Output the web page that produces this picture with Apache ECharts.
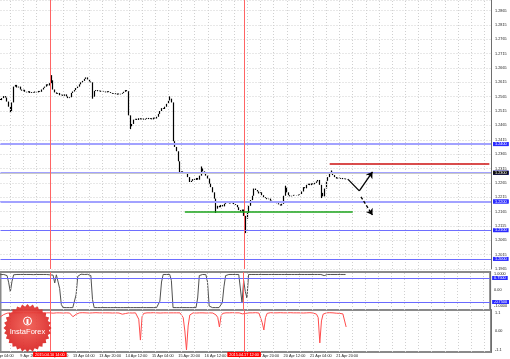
<!DOCTYPE html>
<html><head><meta charset="utf-8">
<script src="https://cdn.jsdelivr.net/npm/echarts@6/dist/echarts.min.js"></script>
<style>html,body{margin:0;padding:0;background:#fff}#c{width:510px;height:359px}</style>
</head><body><div id="c"></div>
<script>
// ---- data ----
const startUTC = [2015, 3, 9, 4];   // first hourly bar: 9 Apr 2015 04:00
const totalSlots = 303;             // hourly slots incl. empty space on the right
const firstVisible = 4, lastVisible = 302;

const closes = [
1.2550,1.2556,1.2552,1.2557,1.2553,1.2560,1.2567,1.2562,1.2548,1.2530,
1.2515,1.2545,1.2600,1.2606,1.2597,1.2600,1.2590,1.2586,1.2589,1.2582,
1.2580,1.2584,1.2578,1.2581,1.2579,1.2583,1.2580,1.2585,1.2582,1.2590,
1.2596,1.2600,1.2608,1.2604,1.2612,1.2622,1.2590,1.2580,1.2575,1.2578,
1.2570,1.2572,1.2568,1.2573,1.2566,1.2560,1.2563,1.2578,1.2583,1.2588,
1.2595,1.2600,1.2608,1.2615,1.2620,1.2627,1.2632,1.2625,1.2618,1.2615,
1.2565,1.2585,1.2588,1.2584,1.2586,1.2582,1.2585,1.2583,1.2580,1.2584,
1.2581,1.2578,1.2575,1.2577,1.2572,1.2576,1.2573,1.2575,1.2578,1.2582,
1.2588,1.2584,1.2500,1.2462,1.2470,1.2485,1.2488,1.2484,1.2490,1.2486,
1.2489,1.2485,1.2488,1.2491,1.2487,1.2490,1.2486,1.2492,1.2489,1.2495,
1.2505,1.2515,1.2525,1.2522,1.2530,1.2540,1.2552,1.2558,1.2545,1.2410,
1.2390,1.2375,1.2340,1.2300,1.2305,1.2296,1.2302,1.2298,1.2285,1.2268,
1.2272,1.2278,1.2275,1.2282,1.2276,1.2290,1.2315,1.2305,1.2298,1.2290,
1.2280,1.2262,1.2250,1.2232,1.2210,1.2175,1.2185,1.2180,1.2188,1.2183,
1.2192,1.2195,1.2198,1.2193,1.2194,1.2197,1.2191,1.2188,1.2180,
1.2170,1.2165,1.2172,1.2150,1.2140,1.2160,1.2185,1.2205,1.2220,1.2245,
1.2240,1.2235,1.2228,1.2232,1.2222,1.2215,1.2212,1.2208,1.2210,1.2203,
1.2200,1.2196,1.2199,1.2194,1.2190,1.2186,1.2192,1.2220,1.2248,1.2232,
1.2222,1.2218,1.2220,1.2223,1.2222,1.2221,1.2224,1.2226,1.2235,
1.2250,1.2246,1.2258,1.2262,1.2257,1.2263,1.2260,1.2265,1.2270,1.2275,
1.2258,1.2230,1.2218,1.2245,1.2272,1.2285,1.2298,1.2303,1.2292,1.2285,
1.2280,1.2283,1.2279,1.2282,1.2278,1.2280,1.2277
];
const highExtremes = [[35,1.2640],[107,1.2566],[126,1.2322],[177,1.2255],[205,1.2308]];
const lowExtremes  = [[10,1.2508],[60,1.2558],[83,1.2452],[135,1.2160],[153,1.2090],[199,1.2212]];

const oscBlack = [
0.97,0.96,0.97,0.97,0.96,0.97,0.97,0.95,0.90,0.45,
-0.12,0.55,0.95,0.97,0.97,0.96,0.97,0.97,0.97,0.96,
0.97,0.97,0.97,0.97,0.96,0.97,0.97,0.97,0.97,0.97,
0.97,0.97,0.97,0.96,0.95,0.96,0.93,0.44,0.95,0.96,
0.10,-0.90,-1.10,-1.10,-1.10,-1.10,-1.10,-1.10,-1.10,-1.09,
-0.30,0.85,0.97,0.99,0.99,0.97,0.99,0.98,0.96,0.90,
-0.60,-1.10,-1.10,-1.10,-1.10,-1.10,-1.10,-1.10,-1.10,-1.10,
-1.10,-1.10,-1.10,-1.10,-1.10,-1.10,-1.10,-1.10,-1.10,-1.10,
-1.10,-1.10,-1.10,-1.10,-1.10,-1.10,-1.10,-1.10,-1.10,-1.10,
-1.10,-1.10,-1.10,-1.10,-1.10,-1.10,-1.10,-1.10,-1.10,-1.10,
-1.10,-0.70,0.50,0.97,0.97,0.97,0.96,0.97,0.60,-1.10,
-1.10,-1.10,-1.10,-1.10,-1.10,-1.10,-1.10,-1.10,-1.10,-1.10,
-1.10,-1.10,-1.10,-1.10,-0.50,0.90,0.97,0.97,0.97,0.96,
0.50,-1.00,-1.10,-1.10,-1.10,-1.10,-1.10,-1.10,-1.10,-0.80,
0.20,0.90,0.97,0.97,0.97,0.97,0.97,0.97,0.96,0.97,
0.90,-0.81,0.60,-0.10,-0.50,0.97,0.97,0.97,0.97,0.97,
0.97,0.97,0.97,0.97,0.97,0.97,0.97,0.97,0.97,0.97,
0.97,0.97,0.97,0.97,0.97,0.97,0.97,0.97,0.97,0.97,
0.97,0.97,0.97,0.97,0.97,0.97,0.97,0.97,0.97,0.97,
0.97,0.97,0.97,0.97,0.97,0.97,0.96,0.97,0.97,0.97,
0.95,0.90,0.95,0.97,0.97,0.97,0.97,0.97,0.97,0.97,
0.97,0.97,0.97,0.97,0.97
];
const oscRed = [
0.60,0.65,0.70,0.77,0.85,0.92,0.98,1.03,1.06,1.07,
1.08,1.07,1.08,1.09,1.08,1.07,1.08,1.08,1.09,1.08,
1.08,1.07,1.08,1.08,1.09,1.08,1.08,1.07,1.08,1.08,
1.09,1.08,1.08,1.07,1.08,1.08,1.06,1.08,1.08,1.09,
1.08,1.08,1.07,1.08,1.08,1.08,1.07,1.05,0.85,0.77,
1.00,1.07,1.08,1.08,1.09,1.08,1.08,1.08,1.07,1.08,
1.08,1.08,1.09,1.08,1.08,1.07,1.08,1.08,1.08,1.09,
1.08,1.08,1.07,1.08,1.08,1.08,1.07,1.05,1.00,0.95,
1.04,1.07,1.08,1.08,1.07,1.08,1.08,1.05,0.70,-0.54,
0.85,1.05,1.08,1.08,1.07,1.08,1.08,1.09,1.08,1.08,
1.08,1.07,1.08,1.08,1.09,1.08,1.08,1.08,1.07,1.08,
1.08,1.08,1.09,1.08,1.06,0.80,0.00,-1.13,0.30,0.95,
1.06,1.08,1.08,1.07,1.08,1.08,1.09,1.08,1.08,1.07,
1.08,1.08,1.08,1.07,1.06,0.95,0.80,0.24,0.90,1.05,
1.08,1.08,1.07,1.08,1.08,1.09,1.08,1.08,1.07,1.08,
1.08,1.02,0.95,1.05,1.08,1.08,1.07,1.08,1.08,1.09,
1.08,1.07,1.00,0.50,0.06,0.80,1.05,1.08,1.09,1.08,
1.08,1.07,1.08,1.08,1.09,1.08,1.08,1.07,1.08,1.08,
1.09,1.08,1.08,1.07,1.08,1.09,1.08,1.08,1.07,1.08,
1.08,1.08,1.09,1.08,1.07,1.06,1.00,0.80,-0.71,0.60,
1.00,1.07,1.08,1.08,1.09,1.08,1.08,1.07,1.06,1.06,
1.05,1.03,1.02,0.98,0.24
];

const priceLevels      = [1.2399, 1.2256, 1.2164, 1.2090, 1.2036];   // solid blue lines
const priceLevelsLight = [1.2429, 1.2333, 1.2226];                   // pale blue lines
const currentPrice = 1.2277;
const resistanceRed = {value: 1.2333, from: 204, to: 301};
const supportGreen  = {value: 1.2164, from: 116, to: 218};
const oscLevels = [0.75, -0.75];
const oscLevelLabels = ['0.7500', '-0.7500'];
const oscAxisLabels = [[1, '1.0000'], [0, '0.00'], [-1, '-1.0000']];
const osc2AxisLabels = [[1.1, '1.1'], [0, '0.00'], [-1.1, '-1.1']];
const markedBars = [34, 152];
const markedBarLabels = ['2015.04.10 14:00', '2015.04.17 12:00'];
const arrowUp   = [[215, 1.2278], [222, 1.2237], [230, 1.2303]];
const arrowDown = [[223, 1.2216], [230, 1.2153]];
const months = ['Jan','Feb','Mar','Apr','May','Jun','Jul','Aug','Sep','Oct','Nov','Dec'];
const lastLabelled = closes.length - 1;

// ---- categories (hourly, weekends skipped) ----
const cats = [];
let t = Date.UTC(...startUTC);
while (cats.length < totalSlots) {
  const d = new Date(t);
  const wd = d.getUTCDay();
  if (wd !== 0 && wd !== 6) {
    cats.push(d.getUTCDate() + ' ' + months[d.getUTCMonth()] + ' ' + String(d.getUTCHours()).padStart(2, '0') + ':00');
  }
  t += 3600000;
}

// ---- OHLC ----
const hiMap = new Map(highExtremes), loMap = new Map(lowExtremes);
const ohlc = closes.map((c, i) => {
  const o = i ? closes[i - 1] : c;
  const hi = hiMap.has(i) ? hiMap.get(i) : Math.max(o, c);
  const lo = loMap.has(i) ? loMap.get(i) : Math.min(o, c);
  return [o, c, lo, hi];
});

const FONT = 'Liberation Sans';
const FS = 3.8;
const DOT = {color: '#d0d0d0', type: [1, 2], width: 1};
const G = {left: 0.5, width: 490.5};

// vertical dotted grid every 8 hourly slots
const vGridSlots = [];
for (let i = firstVisible; i <= lastVisible; i++) if ((i - 2) % 8 === 0) vGridSlots.push(i);

function xAx(k) {
  return {
    type: 'category', gridIndex: k, data: cats, boundaryGap: false,
    min: firstVisible, max: lastVisible,
    axisLine: {show: false}, axisTick: {show: false},
    axisLabel: {
      show: k === 2, interval: (i) => i % 16 === 0 && i <= lastLabelled, align: 'left',
      fontSize: FS, fontFamily: FONT, color: '#222', margin: 2
    },
    splitLine: {show: false}
  };
}
const axLine = {show: true, lineStyle: {color: '#6e6e6e', width: 1}};
const labBase = {fontSize: FS, fontFamily: FONT, color: '#222', margin: 4};

const vGrid = (k) => ({
  type: 'line', xAxisIndex: k, yAxisIndex: k, data: [], silent: true, z: 0,
  markLine: {silent: true, symbol: 'none', animation: false, label: {show: false},
    lineStyle: DOT, data: vGridSlots.map(i => ({xAxis: cats[i], lineStyle: DOT}))}
});

const RED_V = {color: '#ff6464', width: 1, type: 'solid'};
const redV = (withLabel) => ({
  silent: true, symbol: 'none', animation: false,
  lineStyle: RED_V,
  label: withLabel ? {
    show: true, position: 'start', distance: 0, color: '#fff', backgroundColor: '#ff0000',
    fontSize: FS, fontFamily: FONT, padding: [1, 2, 0, 2]
  } : {show: false},
  data: markedBars.map((b, j) => {
    const item = {xAxis: cats[b], lineStyle: RED_V};
    if (withLabel) item.label = {formatter: markedBarLabels[j]};
    return item;
  })
});

const blueLab = (bg) => ({
  show: true, position: 'end', distance: 2, color: '#fff', backgroundColor: bg,
  fontSize: FS, fontFamily: FONT, padding: [0, 2, 0, 2],
  formatter: (p) => Number(p.value).toFixed(4)
});

const levelData = [].concat(
  priceLevels.map(v => ({yAxis: v, lineStyle: {color: '#6e6eff', width: 1, type: 'solid'}, label: blueLab('#2b2bff')})),
  priceLevelsLight.map(v => ({yAxis: v, lineStyle: {color: '#a2a2ff', width: 2, type: 'solid'}, label: blueLab('#2b2bff')})),
  [{yAxis: currentPrice, lineStyle: {color: '#c8c8c8', width: 1, type: 'solid'}, label: blueLab('#111')}]
);

const seg = (pts, dash) => {
  const out = [];
  for (let k = 0; k < pts.length - 1; k++) {
    const last = k === pts.length - 2;
    out.push([
      {coord: [cats[pts[k][0]], pts[k][1]], symbol: 'none', lineStyle: {color: '#000', width: 1.3, type: dash}},
      {coord: [cats[pts[k + 1][0]], pts[k + 1][1]], symbol: last ? 'arrow' : 'none', symbolSize: last ? 6 : 0}
    ]);
  }
  return out;
};

const option = {
  animation: false,
  backgroundColor: '#fff',
  grid: [
    Object.assign({top: 0, height: 269}, G),
    Object.assign({top: 272, height: 38, show: true, borderColor: '#8a8a8a', borderWidth: 2}, G),
    Object.assign({top: 310, height: 42, show: true, borderColor: '#8a8a8a', borderWidth: 2}, G)
  ],
  xAxis: [xAx(0), xAx(1), xAx(2)],
  yAxis: [
    {gridIndex: 0, position: 'right', min: 1.1965, max: 1.29016, interval: 0.005,
     axisLine: axLine, axisTick: {show: false},
     axisLabel: Object.assign({formatter: v => (v > 1.288 ? '' : v.toFixed(4))}, labBase),
     splitLine: {show: true, lineStyle: DOT}},
    {gridIndex: 1, position: 'right', min: -1.25, max: 1.125,
     axisLine: axLine, axisTick: {show: false}, splitLine: {show: false},
     axisLabel: Object.assign({customValues: oscAxisLabels.map(a => a[0]),
       formatter: v => { const f = oscAxisLabels.find(a => Math.abs(a[0] - v) < 1e-6); return f ? f[1] : ''; }}, labBase)},
    {gridIndex: 2, position: 'right', min: -1.25, max: 1.25,
     axisLine: axLine, axisTick: {show: false}, splitLine: {show: false},
     axisLabel: Object.assign({customValues: osc2AxisLabels.map(a => a[0]),
       formatter: v => { const f = osc2AxisLabels.find(a => Math.abs(a[0] - v) < 1e-6); return f ? f[1] : ''; }}, labBase)}
  ],
  series: [
    vGrid(0), vGrid(1), vGrid(2),
    {type: 'line', xAxisIndex: 0, yAxisIndex: 0, data: [], silent: true,
     markLine: {silent: true, symbol: 'none', animation: false, lineStyle: {type: 'solid'}, data: levelData}},
    {type: 'line', xAxisIndex: 0, yAxisIndex: 0, data: [], silent: true, markLine: redV(false)},
    {type: 'line', xAxisIndex: 0, yAxisIndex: 0, data: [], silent: true,
     markLine: {silent: true, symbol: 'none', animation: false, label: {show: false}, lineStyle: {type: 'solid'},
       data: [
         [{coord: [cats[resistanceRed.from], resistanceRed.value], lineStyle: {color: '#cc1010', width: 1.5, type: 'solid'}},
          {coord: [cats[resistanceRed.to], resistanceRed.value]}],
         [{coord: [cats[supportGreen.from], supportGreen.value], lineStyle: {color: '#1aa31a', width: 1.5, type: 'solid'}},
          {coord: [cats[supportGreen.to], supportGreen.value]}]
       ]}},
    {type: 'candlestick', xAxisIndex: 0, yAxisIndex: 0, data: ohlc, barWidth: 1,
     itemStyle: {color: '#000', color0: '#000', borderColor: '#000', borderColor0: '#000', borderWidth: 1.2}},
    {type: 'line', xAxisIndex: 0, yAxisIndex: 0, data: [], silent: true,
     markLine: {silent: true, animation: false, label: {show: false},
       lineStyle: {color: '#000', width: 1.3, type: 'solid'}, data: seg(arrowUp, 'solid')}},
    {type: 'line', xAxisIndex: 0, yAxisIndex: 0, data: [], silent: true,
     markLine: {silent: true, animation: false, label: {show: false},
       lineStyle: {color: '#000', width: 1.3, type: [3, 2]}, data: seg(arrowDown, [3, 2])}},
    {type: 'line', xAxisIndex: 1, yAxisIndex: 1, data: oscBlack, showSymbol: false, silent: true,
     lineStyle: {color: '#505050', width: 1},
     markLine: {silent: true, symbol: 'none', animation: false,
       data: oscLevels.map((v, j) => ({yAxis: v, lineStyle: {color: '#6a6aff', width: 1, type: 'solid'},
         label: Object.assign(blueLab('#2b2bff'), {formatter: oscLevelLabels[j]})}))}},
    {type: 'line', xAxisIndex: 1, yAxisIndex: 1, data: [], silent: true, markLine: redV(false)},
    {type: 'line', xAxisIndex: 2, yAxisIndex: 2, data: oscRed, showSymbol: false, silent: true,
     lineStyle: {color: '#ff4c4c', width: 1}, markLine: redV(true)}
  ],
  graphic: []
};

// InstaForex badge (decoration) and the clipped first time label
const cx = 27.5, cy = 328, pts = [];
for (let k = 0; k < 56; k++) {
  const r = k % 2 ? 21.5 : 24;
  const a = k / 56 * Math.PI * 2;
  pts.push([cx + r * Math.cos(a), cy + r * Math.sin(a)]);
}
option.graphic = [
  {type: 'text', z: 5, x: -6, y: 356, style: {text: cats[0], fill: '#222', font: FS + 'px "Liberation Sans"', align: 'left', verticalAlign: 'middle'}},
  {type: 'polygon', z: 100, shape: {points: pts},
   style: {fill: new echarts.graphic.RadialGradient(0.5, 0.45, 0.6, [
     {offset: 0, color: 'rgba(240,90,80,0.92)'}, {offset: 1, color: 'rgba(215,30,30,0.92)'}])}},
  {type: 'circle', z: 101, shape: {cx: cx, cy: cy - 7, r: 4}, style: {fill: 'none', stroke: '#fff', lineWidth: 1}},
  {type: 'rect', z: 101, shape: {x: cx - 1, y: cy - 9, width: 2, height: 5}, style: {fill: '#fff'}},
  {type: 'text', z: 101, x: cx, y: cy + 4, style: {text: 'InstaForex', fill: '#fff', font: '7.5px "Liberation Sans"', align: 'center', verticalAlign: 'middle'}}
];

const chart = echarts.init(document.getElementById('c'), null, {renderer: 'canvas'});
chart.setOption(option);
</script>
</body></html>
